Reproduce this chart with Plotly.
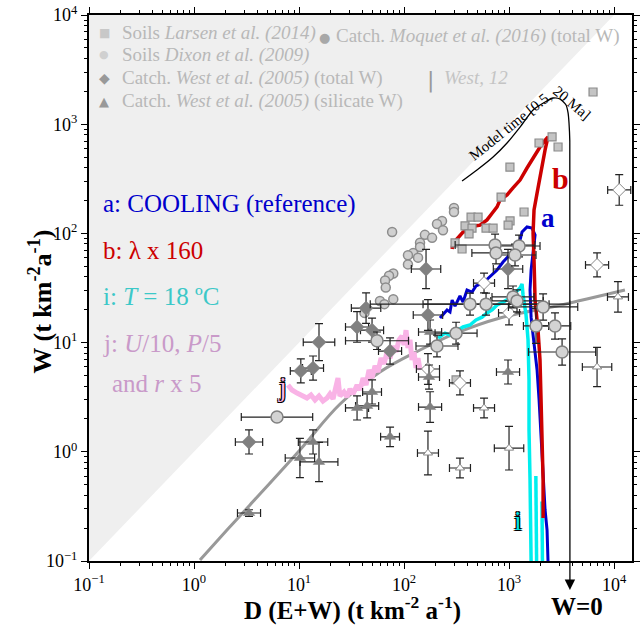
import numpy as np
import plotly.graph_objects as go

# ---------------- data ----------------
# Soils, Larsen et al. (2014)
larsen_D = [6310, 2570, 1930, 2930, 1020, 840, 1390, 435, 507, 1023, 980, 381, 444, 604, 705, 416, 306, 357, 313]
larsen_W = [1972, 764, 673, 618, 405, 215, 157, 141, 141, 130, 119, 117, 112, 112, 112, 99, 82, 72, 4.55]

# Soils, Dixon et al. (2009)
dixon_D = [299, 299, 230, 206, 235, 77, 158, 185, 142, 142, 122, 109, 136, 109, 79, 72, 66, 67, 59, 65, 79, 42]
dixon_W = [171, 157, 130, 122, 107, 103, 97, 91, 82, 75, 66, 63, 60, 52, 43, 41, 37, 32, 24, 22.5, 25, 18.7]

# Catchments, West et al. (2005), total W  (errors in decades)
west_tot_D = [162, 978, 43.5, 35.7, 49.6, 15.5, 169, 73.6, 13.6, 10.4, 3.34]
west_tot_W = [47.2, 47.2, 20.7, 13.9, 13.0, 10.1, 17.9, 8.37, 5.85, 5.5, 1.23]
west_tot_eD = [0.14, 0.14, 0.14, 0.11, 0.11, 0.15, 0.14, 0.11, 0.10, 0.10, 0.13]
west_tot_eW = [0.18, 0.18, 0.14, 0.14, 0.11, 0.17, 0.14, 0.12, 0.11, 0.11, 0.11]

# Catchments, West et al. (2005), silicate W
west_sil_D = [49.6, 44.5, 35.7, 73.6, 173, 177, 177, 13.6, 10.2, 15.5, 3.34, 978]
west_sil_W = [3.53, 2.63, 2.52, 1.37, 4.84, 2.57, 12.5, 1.23, 0.877, 0.807, 0.275, 5.38]
west_sil_eD = [0.09, 0.11, 0.11, 0.09, 0.10, 0.11, 0.11, 0.14, 0.14, 0.18, 0.11, 0.11]
west_sil_eW = [0.11, 0.11, 0.11, 0.09, 0.11, 0.14, 0.11, 0.11, 0.18, 0.18, 0.03, 0.11]

# West (2012) open symbols
west12_dia_D = [11200, 6890, 578, 1000, 169, 341]
west12_dia_W = [250, 51.4, 35.1, 18.7, 5.73, 4.27]
west12_dia_eD = [0.11, 0.11, 0.10, 0.10, 0.11, 0.10]
west12_dia_eW = [0.14, 0.11, 0.09, 0.11, 0.14, 0.11]
west12_tri_D = [6890, 578, 169, 341, 1000, 10900]
west12_tri_W = [5.98, 2.52, 0.975, 0.711, 1.08, 26.2]
west12_tri_eD = [0.14, 0.10, 0.10, 0.10, 0.14, 0.10]
west12_tri_eW = [0.18, 0.09, 0.20, 0.09, 0.20, 0.14]

# Catchments, Moquet et al. (2016), total W
moquet_D = [736, 752, 1245, 1140, 425, 604, 1091, 1191, 2110, 1807, 2740, 3200, 313, 206, 55.3, 6.17]
moquet_W = [78.3, 66.2, 76.7, 63.4, 22.5, 22.5, 26.2, 24.1, 21.2, 14.2, 14.2, 8.2, 12.2, 9.31, 10.4, 2.08]
moquet_eD = [0.38, 0.23, 0.20, 0.20, 0.95, 0.60, 0.20, 0.25, 0.33, 0.12, 0.15, 0.32, 0.20, 0.20, 0.30, 0.34]
moquet_eW = [0.10, 0.10, 0.10, 0.10, 0.10, 0.10, 0.10, 0.10, 0.12, 0.16, 0.12, 0.12, 0.10, 0.10, 0.08, 0.0]

# Model run a: COOLING (reference)
curve_a_D = [220, 257, 274, 287, 306, 341, 365, 398, 444, 485, 565, 659, 769, 877, 978, 1091, 1191, 1273,
             1330, 1483, 1656, 1770, 1694, 1622, 1585, 1622, 1694, 1770, 1849, 1932, 2018, 2110, 2204, 2302, 2350]
curve_a_W = [16.8, 19.9, 19.1, 24.5, 21.6, 26.7, 23.5, 30.3, 29, 33, 35.1, 40.7, 46.2, 54.7, 60.8, 67.6, 75, 87,
             103, 114.5, 112, 96.7, 70.5, 46.2, 30.3, 17.1, 11.7, 8.55, 5.61, 2.98, 1.28, 0.552, 0.293, 0.192, 0.1]

# Model run b: lambda x 160
curve_b_D = [287, 293, 313, 341, 365, 425, 474, 529, 617, 705, 769, 820, 957, 1091, 1273, 1483, 1694, 1972,
             2250, 2350, 2204, 2018, 1849, 1730, 1694, 1730, 1770, 1888, 1972, 2018, 2061, 2110, 2110]
curve_b_W = [72, 81.7, 87, 94.7, 103, 107, 117, 119, 133, 157, 175, 202, 225, 261, 308, 397, 490, 618,
             731, 764, 581, 381, 234, 164, 101, 57, 24.5, 13, 6.93, 2.98, 1.28, 0.552, 0.248]

# Model run i: T = 18 C
curve_i_D = [211, 246, 274, 320, 365, 425, 485, 553, 617, 689, 769, 877, 1023, 1167, 1273, 1330, 1360, 1452,
             1517, 1550, 1550, 1585, 1622, 1622, None, 1800, 1830, None, 2060, 2080]
curve_i_W = [11, 12.2, 11.7, 13, 13.9, 14.5, 16.1, 17.1, 18.7, 19.9, 22.1, 23.5, 25.6, 29, 31.6, 34.4, 27.3, 17.9,
             10.6, 4.55, 1.58, 0.552, 0.192, 0.1, None, 0.6, 0.1, None, 0.35, 0.1]

# Model run j: U/10, P/5 and r x 5
curve_j_D = [7.85, 8.57, 9.57, 10.7, 11.9, 13.0, 14.2, 15.5, 16.9, 18.5, 19.7, 21.1, 22.5, 23.5, 24.5, 26.8,
             28.6, 30.6, 32.7, 35.7, 38.1, 40.7, 43.5, 46.4, 49.6, 52.9, 56.5, 60.4, 64.5, 68.9, 73.6, 78.6,
             83.9, 89.6, 95.7, 100, 104.5, 109, 114, 119, 124.5, 130, 136, 142]
curve_j_W = [4.09, 3.68, 3.45, 3.24, 3.11, 3.31, 2.98, 3.24, 2.92, 3.11, 3.38, 3.05, 4.09, 4.74, 3.24, 3.53,
             3.18, 3.76, 3.38, 4.09, 3.68, 4.74, 4.09, 5.61, 4.74, 6.11, 5.38, 7.22, 6.37, 8.2, 7.22, 9.31,
             8.2, 10.6, 11.5, 9.5, 13, 8.93, 10.6, 6.93, 8.2, 5.85, 7.22, 5.61]

# grey reference relationship
fit_D = [1.14, 2.06, 3.41, 10.2, 24.6, 59, 142, 313, 820, 3060, 12700]
fit_W = [0.102, 0.192, 0.326, 1.04, 2.74, 5.38, 8.55, 12.2, 16.8, 22, 30.3]

# "Model time" guide
model_time_D = [357, 495, 705, 957, 1273, 1694, 2204, 2625, 3060, 3490, 3650, 3725, 3790, 3800]
model_time_W = [302, 381, 501, 673, 942, 1349, 1596, 1738, 1702, 1500, 1268, 1026, 700, 0.1]
w0_D = 3800

# 1:1 line (W = D) bounding the grey area
diag_D = [0.1, 1e4, 0.1]
diag_W = [0.1, 1e4, 1e4]

# axes
x_range_log = [-1, 4.171]
y_range_log = [-1, 4]
tick_vals = [0.1, 1, 10, 100, 1000, 10000]
tick_text = ["10<sup>−1</sup>", "10<sup>0</sup>", "10<sup>1</sup>", "10<sup>2</sup>", "10<sup>3</sup>", "10<sup>4</sup>"]
minor_vals = [m * 10.0 ** e for e in range(-1, 5) for m in range(2, 10)]


def err(v, dec):
    v = np.asarray(v, float)
    d = np.asarray(dec, float)
    return v * (10 ** d - 1), v * (1 - 10 ** (-d))


SERIF = "Liberation Serif"
OUTLINE = "1px 1px 0 #000, -1px -1px 0 #000, 1px -1px 0 #000, -1px 1px 0 #000"
fig = go.Figure()

# grey area W > D
fig.add_trace(go.Scatter(x=diag_D, y=diag_W, fill="toself", fillcolor="#efefef",
                         line=dict(width=0), mode="lines", hoverinfo="skip", showlegend=False))

# grey curve
fig.add_trace(go.Scatter(x=fit_D, y=fit_W, mode="lines", line=dict(color="#999999", width=3, shape="spline"),
                         showlegend=False))

# model time guide
fig.add_trace(go.Scatter(x=model_time_D, y=model_time_W, mode="lines",
                         line=dict(color="black", width=1.3, shape="spline", smoothing=0.6), showlegend=False))

# model curves
fig.add_trace(go.Scatter(x=curve_j_D, y=curve_j_W, mode="lines", line=dict(color="#f9b3e6", width=5),
                         showlegend=False))
fig.add_trace(go.Scatter(x=curve_i_D, y=curve_i_W, mode="lines", line=dict(color="#00eeee", width=3.5),
                         showlegend=False))
fig.add_trace(go.Scatter(x=curve_a_D, y=curve_a_W, mode="lines", line=dict(color="#0000cc", width=3),
                         showlegend=False))
fig.add_trace(go.Scatter(x=curve_b_D, y=curve_b_W, mode="lines", line=dict(color="#cc0000", width=3.5),
                         showlegend=False))


def add_err_pts(D, W, eD, eW, symbol, size, fill, line_color, line_w):
    xp, xm = err(D, eD)
    yp, ym = err(W, eW)
    fig.add_trace(go.Scatter(
        x=D, y=W, mode="markers",
        marker=dict(symbol=symbol, size=size, color=fill, line=dict(color=line_color, width=line_w)),
        error_x=dict(type="data", symmetric=False, array=xp, arrayminus=xm, color="#222222", thickness=1.2, width=4),
        error_y=dict(type="data", symmetric=False, array=yp, arrayminus=ym, color="#222222", thickness=1.2, width=4),
        showlegend=False))


# soils
fig.add_trace(go.Scatter(x=dixon_D, y=dixon_W, mode="markers",
                         marker=dict(symbol="circle", size=9, color="#d0d0d0", line=dict(color="#8c8c8c", width=1.5)),
                         showlegend=False))
fig.add_trace(go.Scatter(x=larsen_D, y=larsen_W, mode="markers",
                         marker=dict(symbol="square", size=8, color="#c4c4c4", line=dict(color="#8c8c8c", width=1.2)),
                         showlegend=False))

add_err_pts(west12_tri_D, west12_tri_W, west12_tri_eD, west12_tri_eW, "triangle-up", 8, "white", "#888888", 1)
add_err_pts(west12_dia_D, west12_dia_W, west12_dia_eD, west12_dia_eW, "diamond", 10, "white", "#888888", 1)
add_err_pts(west_sil_D, west_sil_W, west_sil_eD, west_sil_eW, "triangle-up", 10, "#808080", "#808080", 0.5)
add_err_pts(west_tot_D, west_tot_W, west_tot_eD, west_tot_eW, "diamond", 11, "#808080", "#808080", 0.5)
add_err_pts(moquet_D, moquet_W, moquet_eD, moquet_eW, "circle", 12, "#d3d3d3", "#808080", 1.5)

# ---------------- annotations ----------------
ann = []
LEG = "#b8b8b8"

PLOT_L, PLOT_R, PLOT_T, PLOT_B = 89, 632, 15, 561


def px(x):
    return (x - PLOT_L) / (PLOT_R - PLOT_L)


def py(y):
    return (PLOT_B - y) / (PLOT_B - PLOT_T)


def text(x, y, t, size, color, xanchor="left", family=SERIF, shadow=None, **kw):
    f = dict(family=family, size=size, color=color)
    if shadow:
        f["shadow"] = shadow
    ann.append(dict(x=px(x), y=py(y), xref="paper", yref="paper", text=t, showarrow=False,
                    xanchor=xanchor, yanchor="middle", font=f, **kw))


# legend
LS = 19
text(104, 33, "■", 12, "#c8c8c8", "center", "DejaVu Sans")
text(120, 33, "Soils <i>Larsen et al. (2014)</i>", LS, LEG)
text(104, 55, "●", 11, "#d0d0d0", "center", "DejaVu Sans")
text(120, 55, "Soils <i>Dixon et al. (2009)</i>", LS, LEG)
text(104, 78, "◆", 14, "#999999", "center", "DejaVu Sans")
text(120, 78, "Catch. <i>West et al. (2005)</i> (total W)", LS, LEG)
text(104, 101, "▲", 13, "#999999", "center", "DejaVu Sans")
text(120, 101, "Catch. <i>West et al. (2005)</i> (silicate W)", LS, LEG)
text(324, 38, "●", 13, "#a8a8a8", "center", "DejaVu Sans")
text(334, 36, "Catch. <i>Moquet et al. (2016)</i> (total W)", LS, LEG)
text(430, 80, "|", 22, "#999999", "center", "DejaVu Sans")
text(442, 77, "<i>West, 12</i>", LS, "#c4c4c4")

# run legend
RS = 25
text(101, 204, "a: COOLING (reference)", RS, "#0000cc")
text(101, 250, "b: λ x 160", RS, "#cc0000")
text(101, 297, "i: <i>T</i> = 18 ºC", RS, "#3cc8c8")
text(101, 343, "j: <i>U</i>/10, <i>P</i>/5", RS, "#c99ac9")
text(110, 383, "and <i>r</i> x 5", RS, "#c99ac9")

# curve labels
text(548, 218, "<b>a</b>", 27, "#0000cc", "center")
text(560, 178, "<b>b</b>", 30, "#cc0000", "center")
text(518, 520, "i", 28, "#00e0e0", "center", shadow=OUTLINE)
text(282, 386, "j", 28, "#f9b3e6", "center", shadow=OUTLINE)

# model time label, following the curve
text(510, 126, "Model time [0.5,", 15, "black", "center", textangle=-39)
text(572, 103, "20 Ma]", 15, "black", "center", textangle=40)

# W=0 arrow below the axis
ann.append(dict(x=np.log10(w0_D), y=py(590), xref="x", yref="paper", ax=0, ay=-30,
                axref="pixel", ayref="pixel", text="", showarrow=True, arrowhead=2, arrowsize=1.6,
                arrowwidth=1.3, arrowcolor="black"))
text(577, 606, "<b>W=0</b>", 25, "black", "center")

# axis titles
text(352, 608, "<b>D (E+W) (t km<sup>-2</sup> a<sup>-1</sup>)</b>", 25, "black", "center")
ann.append(dict(x=px(22), y=py(302), xref="paper", yref="paper", text="<b>W (t km<sup>-2</sup>a<sup>-1</sup>)</b>",
                showarrow=False, textangle=-90, font=dict(family=SERIF, size=26, color="black")))

axis_common = dict(type="log", showgrid=False, zeroline=False, showline=True, linecolor="black", linewidth=2,
                   mirror="allticks", ticks="outside", ticklen=6, tickwidth=1.3, tickcolor="black",
                   tickmode="array", tickvals=tick_vals, ticktext=tick_text, automargin=False,
                   ticklabeloverflow="allow",
                   tickfont=dict(family=SERIF, size=18, color="black"),
                   minor=dict(ticks="outside", ticklen=3, tickcolor="black", tickwidth=1, showgrid=False,
                              tickmode="array", tickvals=minor_vals))

fig.update_layout(
    width=640, height=625,
    margin=dict(l=PLOT_L, r=640 - PLOT_R, t=PLOT_T, b=625 - PLOT_B, autoexpand=False),
    paper_bgcolor="white", plot_bgcolor="white",
    xaxis=dict(range=x_range_log, **axis_common),
    yaxis=dict(range=y_range_log, **axis_common),
    annotations=ann,
    showlegend=False,
)

# remove the browser's default 8 px page margin so the figure sits at the window corner
fig.write_html("out.html", config={"displayModeBar": False},
               post_script="document.body.style.margin='0px';")
